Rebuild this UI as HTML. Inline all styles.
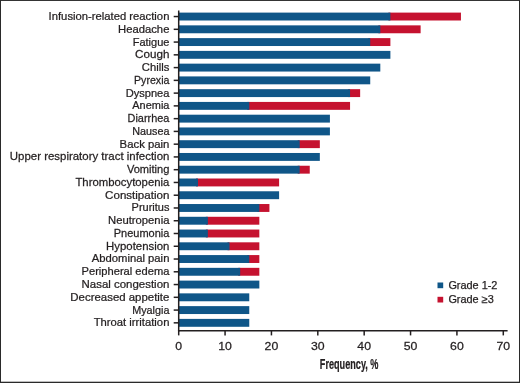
<!DOCTYPE html>
<html><head><meta charset="utf-8"><title>Adverse events</title>
<style>
html,body{margin:0;padding:0;background:#fff;}
body{width:520px;height:383px;overflow:hidden;}
svg{display:block;}
text{font-family:"Liberation Sans",sans-serif;fill:#231f20;stroke:#231f20;stroke-width:0.25px;}
</style></head><body>
<svg width="520" height="383" viewBox="0 0 520 383">
<rect x="0" y="0" width="520" height="383" fill="#fff"/>
<rect x="0" y="0" width="520" height="0.95" fill="#2a2a2a"/><rect x="0" y="0" width="1" height="383" fill="#2a2a2a"/><rect x="519" y="0" width="1" height="383" fill="#2a2a2a"/><rect x="0" y="381.7" width="520" height="1.3" fill="#2a2a2a"/>
<rect x="388.39" y="12.60" width="72.56" height="7.90" fill="#c5122f"/><rect x="178.70" y="12.60" width="211.69" height="7.90" fill="#0f5688"/><line x1="173.70" x2="178.70" y1="16.55" y2="16.55" stroke="#231f20" stroke-width="1.50"/><text transform="translate(169.40 20.00) scale(0.972 1)" font-size="11.60" text-anchor="end">Infusion-related reaction</text>
<rect x="378.31" y="25.36" width="42.32" height="7.90" fill="#c5122f"/><rect x="178.70" y="25.36" width="201.61" height="7.90" fill="#0f5688"/><line x1="173.70" x2="178.70" y1="29.31" y2="29.31" stroke="#231f20" stroke-width="1.50"/><text transform="translate(169.40 32.76) scale(0.972 1)" font-size="11.60" text-anchor="end">Headache</text>
<rect x="368.23" y="38.12" width="22.16" height="7.90" fill="#c5122f"/><rect x="178.70" y="38.12" width="191.53" height="7.90" fill="#0f5688"/><line x1="173.70" x2="178.70" y1="42.07" y2="42.07" stroke="#231f20" stroke-width="1.50"/><text transform="translate(169.40 45.52) scale(0.951 1)" font-size="11.60" text-anchor="end">Fatigue</text>
<rect x="178.70" y="50.89" width="211.69" height="7.90" fill="#0f5688"/><line x1="173.70" x2="178.70" y1="54.84" y2="54.84" stroke="#231f20" stroke-width="1.50"/><text transform="translate(169.40 58.29) scale(1.004 1)" font-size="11.60" text-anchor="end">Cough</text>
<rect x="178.70" y="63.65" width="201.61" height="7.90" fill="#0f5688"/><line x1="173.70" x2="178.70" y1="67.60" y2="67.60" stroke="#231f20" stroke-width="1.50"/><text transform="translate(169.40 71.05) scale(0.972 1)" font-size="11.60" text-anchor="end">Chills</text>
<rect x="178.70" y="76.41" width="191.53" height="7.90" fill="#0f5688"/><line x1="173.70" x2="178.70" y1="80.36" y2="80.36" stroke="#231f20" stroke-width="1.50"/><text transform="translate(169.40 83.81) scale(0.916 1)" font-size="11.60" text-anchor="end">Pyrexia</text>
<rect x="348.07" y="89.17" width="12.08" height="7.90" fill="#c5122f"/><rect x="178.70" y="89.17" width="171.37" height="7.90" fill="#0f5688"/><line x1="173.70" x2="178.70" y1="93.12" y2="93.12" stroke="#231f20" stroke-width="1.50"/><text transform="translate(169.40 96.57) scale(0.955 1)" font-size="11.60" text-anchor="end">Dyspnea</text>
<rect x="247.26" y="101.93" width="102.80" height="7.90" fill="#c5122f"/><rect x="178.70" y="101.93" width="70.56" height="7.90" fill="#0f5688"/><line x1="173.70" x2="178.70" y1="105.88" y2="105.88" stroke="#231f20" stroke-width="1.50"/><text transform="translate(169.40 109.33) scale(0.944 1)" font-size="11.60" text-anchor="end">Anemia</text>
<rect x="178.70" y="114.70" width="151.21" height="7.90" fill="#0f5688"/><line x1="173.70" x2="178.70" y1="118.65" y2="118.65" stroke="#231f20" stroke-width="1.50"/><text transform="translate(169.40 122.10) scale(0.941 1)" font-size="11.60" text-anchor="end">Diarrhea</text>
<rect x="178.70" y="127.46" width="151.21" height="7.90" fill="#0f5688"/><line x1="173.70" x2="178.70" y1="131.41" y2="131.41" stroke="#231f20" stroke-width="1.50"/><text transform="translate(169.40 134.86) scale(0.930 1)" font-size="11.60" text-anchor="end">Nausea</text>
<rect x="297.67" y="140.22" width="22.16" height="7.90" fill="#c5122f"/><rect x="178.70" y="140.22" width="120.97" height="7.90" fill="#0f5688"/><line x1="173.70" x2="178.70" y1="144.17" y2="144.17" stroke="#231f20" stroke-width="1.50"/><text transform="translate(169.40 147.62) scale(0.978 1)" font-size="11.60" text-anchor="end">Back pain</text>
<rect x="178.70" y="152.98" width="141.13" height="7.90" fill="#0f5688"/><line x1="173.70" x2="178.70" y1="156.93" y2="156.93" stroke="#231f20" stroke-width="1.50"/><text transform="translate(169.40 160.38) scale(0.987 1)" font-size="11.60" text-anchor="end">Upper respiratory tract infection</text>
<rect x="297.67" y="165.74" width="12.08" height="7.90" fill="#c5122f"/><rect x="178.70" y="165.74" width="120.97" height="7.90" fill="#0f5688"/><line x1="173.70" x2="178.70" y1="169.69" y2="169.69" stroke="#231f20" stroke-width="1.50"/><text transform="translate(169.40 173.14) scale(0.956 1)" font-size="11.60" text-anchor="end">Vomiting</text>
<rect x="195.96" y="178.51" width="83.14" height="7.90" fill="#c5122f"/><rect x="178.70" y="178.51" width="19.26" height="7.90" fill="#0f5688"/><line x1="173.70" x2="178.70" y1="182.46" y2="182.46" stroke="#231f20" stroke-width="1.50"/><text transform="translate(169.40 185.91) scale(0.979 1)" font-size="11.60" text-anchor="end">Thrombocytopenia</text>
<rect x="178.70" y="191.27" width="100.40" height="7.90" fill="#0f5688"/><line x1="173.70" x2="178.70" y1="195.22" y2="195.22" stroke="#231f20" stroke-width="1.50"/><text transform="translate(169.40 198.67) scale(0.998 1)" font-size="11.60" text-anchor="end">Constipation</text>
<rect x="257.34" y="204.03" width="12.08" height="7.90" fill="#c5122f"/><rect x="178.70" y="204.03" width="80.64" height="7.90" fill="#0f5688"/><line x1="173.70" x2="178.70" y1="207.98" y2="207.98" stroke="#231f20" stroke-width="1.50"/><text transform="translate(169.40 211.43) scale(0.947 1)" font-size="11.60" text-anchor="end">Pruritus</text>
<rect x="205.84" y="216.79" width="53.50" height="7.90" fill="#c5122f"/><rect x="178.70" y="216.79" width="29.14" height="7.90" fill="#0f5688"/><line x1="173.70" x2="178.70" y1="220.74" y2="220.74" stroke="#231f20" stroke-width="1.50"/><text transform="translate(169.40 224.19) scale(0.972 1)" font-size="11.60" text-anchor="end">Neutropenia</text>
<rect x="205.84" y="229.55" width="53.50" height="7.90" fill="#c5122f"/><rect x="178.70" y="229.55" width="29.14" height="7.90" fill="#0f5688"/><line x1="173.70" x2="178.70" y1="233.50" y2="233.50" stroke="#231f20" stroke-width="1.50"/><text transform="translate(169.40 236.95) scale(0.948 1)" font-size="11.60" text-anchor="end">Pneumonia</text>
<rect x="227.50" y="242.32" width="31.84" height="7.90" fill="#c5122f"/><rect x="178.70" y="242.32" width="50.80" height="7.90" fill="#0f5688"/><line x1="173.70" x2="178.70" y1="246.27" y2="246.27" stroke="#231f20" stroke-width="1.50"/><text transform="translate(169.40 249.72) scale(0.983 1)" font-size="11.60" text-anchor="end">Hypotension</text>
<rect x="247.26" y="255.08" width="12.08" height="7.90" fill="#c5122f"/><rect x="178.70" y="255.08" width="70.56" height="7.90" fill="#0f5688"/><line x1="173.70" x2="178.70" y1="259.03" y2="259.03" stroke="#231f20" stroke-width="1.50"/><text transform="translate(169.40 262.48) scale(0.972 1)" font-size="11.60" text-anchor="end">Abdominal pain</text>
<rect x="238.18" y="267.84" width="21.16" height="7.90" fill="#c5122f"/><rect x="178.70" y="267.84" width="61.48" height="7.90" fill="#0f5688"/><line x1="173.70" x2="178.70" y1="271.79" y2="271.79" stroke="#231f20" stroke-width="1.50"/><text transform="translate(169.40 275.24) scale(0.961 1)" font-size="11.60" text-anchor="end">Peripheral edema</text>
<rect x="178.70" y="280.60" width="80.64" height="7.90" fill="#0f5688"/><line x1="173.70" x2="178.70" y1="284.55" y2="284.55" stroke="#231f20" stroke-width="1.50"/><text transform="translate(169.40 288.00) scale(0.988 1)" font-size="11.60" text-anchor="end">Nasal congestion</text>
<rect x="178.70" y="293.36" width="70.56" height="7.90" fill="#0f5688"/><line x1="173.70" x2="178.70" y1="297.31" y2="297.31" stroke="#231f20" stroke-width="1.50"/><text transform="translate(169.40 300.76) scale(0.986 1)" font-size="11.60" text-anchor="end">Decreased appetite</text>
<rect x="178.70" y="306.13" width="70.56" height="7.90" fill="#0f5688"/><line x1="173.70" x2="178.70" y1="310.08" y2="310.08" stroke="#231f20" stroke-width="1.50"/><text transform="translate(169.40 313.53) scale(0.930 1)" font-size="11.60" text-anchor="end">Myalgia</text>
<rect x="178.70" y="318.89" width="70.56" height="7.90" fill="#0f5688"/><line x1="173.70" x2="178.70" y1="322.84" y2="322.84" stroke="#231f20" stroke-width="1.50"/><text transform="translate(169.40 326.29) scale(0.972 1)" font-size="11.60" text-anchor="end">Throat irritation</text>
<line x1="178.70" x2="178.70" y1="10.5" y2="331.55" stroke="#231f20" stroke-width="1.50"/>
<line x1="177.95" x2="507.6" y1="330.80" y2="330.80" stroke="#231f20" stroke-width="1.50"/>
<line x1="178.70" x2="178.70" y1="330.80" y2="335.40" stroke="#231f20" stroke-width="1.50"/><text transform="translate(178.70 350.1) scale(1.06 1)" font-size="11.60" text-anchor="middle">0</text>
<line x1="225.07" x2="225.07" y1="330.80" y2="335.40" stroke="#231f20" stroke-width="1.50"/><text transform="translate(225.07 350.1) scale(1.06 1)" font-size="11.60" text-anchor="middle">10</text>
<line x1="271.44" x2="271.44" y1="330.80" y2="335.40" stroke="#231f20" stroke-width="1.50"/><text transform="translate(271.44 350.1) scale(1.06 1)" font-size="11.60" text-anchor="middle">20</text>
<line x1="317.81" x2="317.81" y1="330.80" y2="335.40" stroke="#231f20" stroke-width="1.50"/><text transform="translate(317.81 350.1) scale(1.06 1)" font-size="11.60" text-anchor="middle">30</text>
<line x1="364.18" x2="364.18" y1="330.80" y2="335.40" stroke="#231f20" stroke-width="1.50"/><text transform="translate(364.18 350.1) scale(1.06 1)" font-size="11.60" text-anchor="middle">40</text>
<line x1="410.55" x2="410.55" y1="330.80" y2="335.40" stroke="#231f20" stroke-width="1.50"/><text transform="translate(410.55 350.1) scale(1.06 1)" font-size="11.60" text-anchor="middle">50</text>
<line x1="456.92" x2="456.92" y1="330.80" y2="335.40" stroke="#231f20" stroke-width="1.50"/><text transform="translate(456.92 350.1) scale(1.06 1)" font-size="11.60" text-anchor="middle">60</text>
<line x1="503.29" x2="503.29" y1="330.80" y2="335.40" stroke="#231f20" stroke-width="1.50"/><text transform="translate(503.29 350.1) scale(1.06 1)" font-size="11.60" text-anchor="middle">70</text>
<text transform="translate(349.15 369.4) scale(0.626 1)" font-size="14.6" text-anchor="middle" font-weight="bold" stroke="none">Frequency, %</text>
<rect x="437.5" y="282.5" width="5.7" height="5.7" fill="#0f5688"/><text x="448.4" y="288.7" font-size="10.90">Grade 1-2</text>
<rect x="437.5" y="296.8" width="5.7" height="5.7" fill="#c5122f"/><text x="448.4" y="302.9" font-size="10.90">Grade ≥3</text>
</svg>
</body></html>
